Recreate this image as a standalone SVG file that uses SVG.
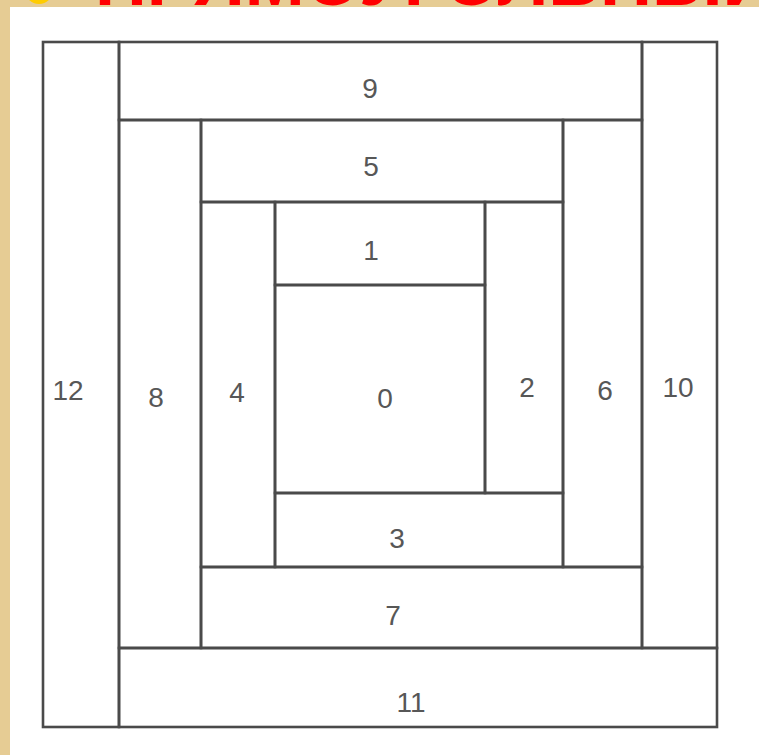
<svg xmlns="http://www.w3.org/2000/svg" width="759" height="755" viewBox="0 0 759 755">
  <style>
    .p { fill: none; stroke: #4a4a4a; stroke-width: 2.6; }
    .t { font-family: "Liberation Sans", Arial, sans-serif; font-size: 28px; fill: #575757; text-anchor: middle; }
    .title { font-family: "Liberation Sans", Arial, sans-serif; font-size: 72px; font-weight: bold; fill: #ff0000; }
  </style>
  <rect x="0" y="0" width="759" height="755" fill="#e6cc94"/>
  <circle cx="39" cy="-10" r="14" fill="#ffcc00"/>
  <text class="title" x="95" y="5">ПРЯМОУГОЛЬНЫЙ</text>
  <rect x="10" y="7" width="749" height="748" fill="#ffffff"/>

  <g id="piece-12"><rect class="p" x="43" y="42" width="76" height="685"/><text class="t" x="68" y="400">12</text></g>
  <g id="piece-9"><rect class="p" x="119" y="42" width="523" height="78"/><text class="t" x="370" y="98">9</text></g>
  <g id="piece-10"><rect class="p" x="642" y="42" width="75" height="606"/><text class="t" x="678" y="397">10</text></g>
  <g id="piece-11"><rect class="p" x="119" y="648" width="598" height="79"/><text class="t" x="411" y="712">11</text></g>
  <g id="piece-8"><rect class="p" x="119" y="120" width="82" height="528"/><text class="t" x="156" y="407">8</text></g>
  <g id="piece-5"><rect class="p" x="201" y="120" width="362" height="82"/><text class="t" x="371" y="176">5</text></g>
  <g id="piece-6"><rect class="p" x="563" y="120" width="79" height="447"/><text class="t" x="605" y="400">6</text></g>
  <g id="piece-7"><rect class="p" x="201" y="567" width="441" height="81"/><text class="t" x="393" y="625">7</text></g>
  <g id="piece-4"><rect class="p" x="201" y="202" width="74" height="365"/><text class="t" x="237" y="402">4</text></g>
  <g id="piece-1"><rect class="p" x="275" y="202" width="210" height="83"/><text class="t" x="371" y="260">1</text></g>
  <g id="piece-2"><rect class="p" x="485" y="202" width="78" height="291"/><text class="t" x="527" y="397">2</text></g>
  <g id="piece-3"><rect class="p" x="275" y="493" width="288" height="74"/><text class="t" x="397" y="548">3</text></g>
  <g id="piece-0"><rect class="p" x="275" y="285" width="210" height="208"/><text class="t" x="385" y="408">0</text></g>
  <g id="connectors"></g>
</svg>
